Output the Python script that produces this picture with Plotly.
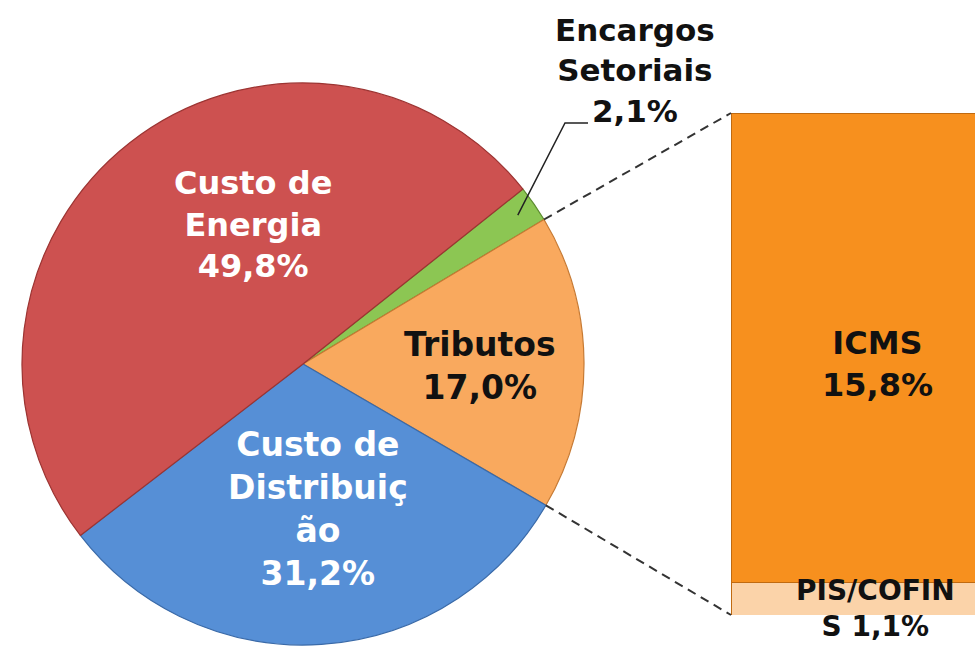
import math
import plotly.graph_objects as go

# ---- data ----
pie_labels = ["Encargos Setoriais", "Tributos", "Custo de Distribuição", "Custo de Energia"]
pie_values = [2.1, 17.0, 31.2, 49.8]
pie_colors = ["#8cc653", "#f9a95e", "#568fd6", "#cd5150"]
pie_lines = ["#5e8c32", "#c77a33", "#3a6aa8", "#9c3432"]

bar_labels = ["PIS/COFINS", "ICMS"]
bar_values = [1.1, 15.8]
bar_colors = ["#fbd3a9", "#f7901e"]

label_text = {
    "Encargos Setoriais": "Encargos<br>Setoriais",
    "Tributos": "Tributos",
    "Custo de Distribuição": "Custo de<br>Distribuiç<br>ão",
    "Custo de Energia": "Custo de<br>Energia",
    "ICMS": "ICMS",
    "PIS/COFINS": "PIS/COFIN<br>S",
}

def pct(v):
    return f"{v:.1f}%".replace(".", ",")

W, H = 975, 647
cx, cy, r = 303, 364, 281          # pie centre / radius in px (y from top)
rotation = 51.5
bar_left, bar_top, bar_bottom = 731, 113, 615
bar_full_w = 292

def px(x):
    return x / W

def py(y):
    return (H - y) / H

fig = go.Figure()
fig.add_trace(go.Pie(
    labels=pie_labels, values=pie_values, sort=False, direction="clockwise",
    rotation=rotation, textinfo="none", hoverinfo="label+percent",
    marker=dict(colors=pie_colors, line=dict(color=pie_lines, width=1.2)),
    domain=dict(x=[px(cx - r), px(cx + r)], y=[py(cy + r), py(cy - r)]),
    showlegend=False,
))

for lab, val, col in zip(bar_labels, bar_values, bar_colors):
    fig.add_trace(go.Bar(
        x=[0], y=[val], name=lab, width=1, marker=dict(color=col, line=dict(color="#c06a10", width=1)),
        xaxis="x", yaxis="y", showlegend=False,
    ))

total_bar = sum(bar_values)
fig.update_layout(
    width=W, height=H, margin=dict(l=0, r=0, t=0, b=0),
    paper_bgcolor="white", plot_bgcolor="rgba(0,0,0,0)",
    barmode="stack",
    xaxis=dict(domain=[px(bar_left), 1], range=[-0.5, -0.5 + (W - bar_left) / bar_full_w],
               visible=False, fixedrange=True),
    yaxis=dict(domain=[py(bar_bottom), py(bar_top)], range=[0, total_bar], visible=False,
               fixedrange=True),
    font=dict(family="DejaVu Sans"),
)

# connector lines from the Tributos slice to the bar
total = sum(pie_values)
a_start = rotation
ang = {}
for lab, v in zip(pie_labels, pie_values):
    a_end = a_start + v / total * 360
    ang[lab] = (a_start, a_end)
    a_start = a_end

def pt(a_deg, rr):
    a = math.radians(a_deg)
    return cx + rr * math.sin(a), cy - rr * math.cos(a)

p1 = pt(ang["Tributos"][0], r)
p2 = pt(ang["Tributos"][1], r)
dash = dict(color="#333333", width=2, dash="9px,6px")
fig.add_shape(type="line", xref="paper", yref="paper", x0=px(p1[0]), y0=py(p1[1]),
              x1=px(bar_left), y1=py(bar_top), line=dash)
fig.add_shape(type="line", xref="paper", yref="paper", x0=px(p2[0]), y0=py(p2[1]),
              x1=px(bar_left), y1=py(bar_bottom), line=dash)

# leader line for Encargos Setoriais
gmid = sum(ang["Encargos Setoriais"]) / 2
g = pt(gmid, r * 0.93)
fig.add_shape(type="path", xref="paper", yref="paper",
              path=f"M {px(g[0])},{py(g[1])} L {px(565)},{py(123)} L {px(588)},{py(123)}",
              line=dict(color="#222222", width=1.5))

fs = 33
def ann(text, x, y, color, size=fs):
    fig.add_annotation(text=f"<b>{text}</b>", x=px(x), y=py(y), xref="paper", yref="paper",
                       xanchor="center", yanchor="middle", showarrow=False,
                       font=dict(family="DejaVu Sans", size=size, color=color))

vals = dict(zip(pie_labels, pie_values))
vals.update(dict(zip(bar_labels, bar_values)))

ann(label_text["Encargos Setoriais"] + "<br>" + pct(vals["Encargos Setoriais"]), 635, 70, "#111111", 31)
ann(label_text["Custo de Energia"] + "<br>" + pct(vals["Custo de Energia"]), 253, 225, "white", 32)
ann(label_text["Tributos"] + "<br>" + pct(vals["Tributos"]), 480, 366, "#111111")
ann(label_text["Custo de Distribuição"] + "<br>" + pct(vals["Custo de Distribuição"]), 318, 509, "white")
ann(label_text["ICMS"] + "<br>" + pct(vals["ICMS"]), 877, 364, "#111111", 32)
ann(label_text["PIS/COFINS"] + " " + pct(vals["PIS/COFINS"]), 875, 608, "#111111", 28)

fig.write_html("out.html", config={"displayModeBar": False},
               post_script="document.body.style.margin='0px';document.body.style.overflow='hidden';")
